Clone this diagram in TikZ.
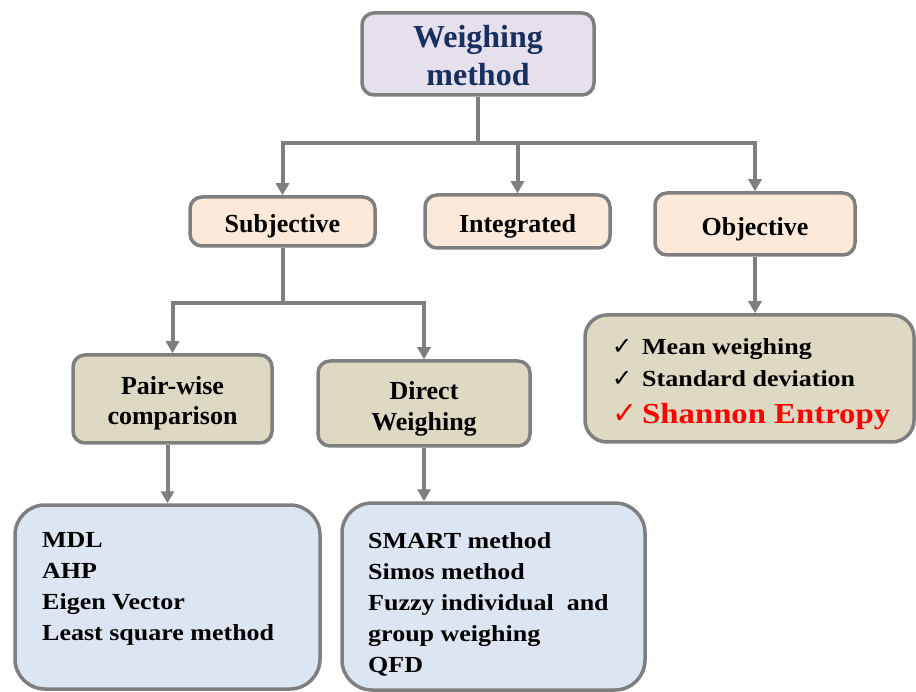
\documentclass[tikz,border=0pt]{standalone}
\usepackage{fontspec}
\setmainfont{Liberation Serif}
\newfontfamily\widefont{Liberation Serif}[FakeStretch=1.13]
\newfontfamily\tickfont{DejaVu Sans}
\usetikzlibrary{arrows.meta}

\definecolor{edgegray}{HTML}{7F7F7F}
\definecolor{titlefill}{HTML}{E6E0EC}
\definecolor{titleink}{HTML}{17305F}
\definecolor{peach}{HTML}{FDE9D9}
\definecolor{khaki}{HTML}{DDD9C3}
\definecolor{paleblue}{HTML}{DCE6F2}

\tikzset{
  boxbase/.style={draw=edgegray, line width=3.5pt, rounded corners=12pt,
    align=center, inner sep=0pt, text=black},
  titlebox/.style={boxbase, fill=titlefill, text=titleink,
    font=\bfseries\fontsize{32}{38}\selectfont, text height=66pt, text depth=2pt},
  classbox/.style={boxbase, fill=peach, font=\bfseries\fontsize{26}{32}\selectfont,
    text height=24pt, text depth=1pt},
  kindbox/.style={boxbase, fill=khaki, font=\bfseries\fontsize{26}{31}\selectfont,
    text height=54pt, text depth=2pt},
  listbox/.style={draw=edgegray, line width=3.5pt, rounded corners=30pt, fill=paleblue},
  objlistbox/.style={draw=edgegray, line width=3.5pt, rounded corners=22pt, fill=khaki},
  listtext/.style={inner sep=0pt, align=left,
    font=\widefont\bfseries\fontsize{23}{31}\selectfont},
  checkline/.style={inner sep=0pt, anchor=base west,
    font=\widefont\bfseries\fontsize{23}{28}\selectfont},
  linkline/.style={draw=edgegray, line width=4pt},
  linkarrow/.style={linkline, -{Triangle[width=13pt,length=12pt]}},
}

\begin{document}
\begin{tikzpicture}[x=1pt, y=-1pt]
  \useasboundingbox (0,0) rectangle (916,692);

  % root
  \node[titlebox, minimum width=232pt, minimum height=82pt] (title) at (478,54)
    {Weighing\\method};

  % first level
  \node[classbox, minimum width=185pt, minimum height=49pt] (subj) at (282.5,221.5) {Subjective};
  \node[classbox, minimum width=185pt, minimum height=53pt] (integ) at (517.5,221.5) {Integrated};
  \node[classbox, minimum width=200pt, minimum height=62pt] (obj) at (755,224) {Objective};

  % second level
  \node[kindbox, minimum width=199pt, minimum height=88pt] (pw) at (172.5,399) {Pair-wise\\comparison};
  \node[kindbox, minimum width=212pt, minimum height=85pt, text height=56pt] (dw) at (424,403.5) {Direct\\Weighing};

  % method lists
  \node[listbox, minimum width=305pt, minimum height=184pt] (pwlist) at (167.5,597) {};
  \node[listtext, anchor=north west] (pwtext) at (42,532)
    {MDL\\AHP\\Eigen Vector\\Least square method};

  \node[listbox, minimum width=303pt, minimum height=187pt] (dwlist) at (493.5,596.5) {};
  \node[listtext, anchor=north west] (dwtext) at (368,532)
    {SMART method\\Simos method\\Fuzzy individual\ \ and\\group weighing\\QFD};

  \node[objlistbox, minimum width=329pt, minimum height=127pt] (objlist) at (749.5,378.5) {};
  \node[checkline] (objmean) at (612,355)
    {\makebox[30pt][l]{\tickfont\mdseries\fontsize{24}{24}\selectfont ✓}Mean weighing};
  \node[checkline] (objsd) at (612,387)
    {\makebox[30pt][l]{\tickfont\mdseries\fontsize{24}{24}\selectfont ✓}Standard deviation};
  \node[checkline, text=red, font=\widefont\bfseries\fontsize{29}{34}\selectfont] (objse) at (612,424)
    {\makebox[30pt][l]{\tickfont\mdseries\fontsize{30}{30}\selectfont ✓}Shannon Entropy};

  % connectors from the root
  \coordinate (rootbus) at (478,143);
  \draw[linkline] (title.south) -- (rootbus);
  \draw[linkarrow] (rootbus) -| (subj.north);
  \draw[linkarrow] (rootbus) -| (obj.north);
  \draw[linkarrow] (integ.north |- rootbus) -- (integ.north);

  % connectors from Subjective
  \coordinate (subjbus) at (282.5,303);
  \draw[linkline] (subj.south) -- (subjbus);
  \draw[linkarrow] (subjbus) -| (pw.north);
  \draw[linkarrow] (subjbus) -| (dw.north);

  % connectors to the lists
  \draw[linkarrow] (pwlist.north |- pw.south) -- (pwlist.north);
  \draw[linkarrow] (dw.south) -- (dw.south |- dwlist.north);
  \draw[linkarrow] (obj.south) -- (obj.south |- objlist.north);
\end{tikzpicture}
\end{document}
